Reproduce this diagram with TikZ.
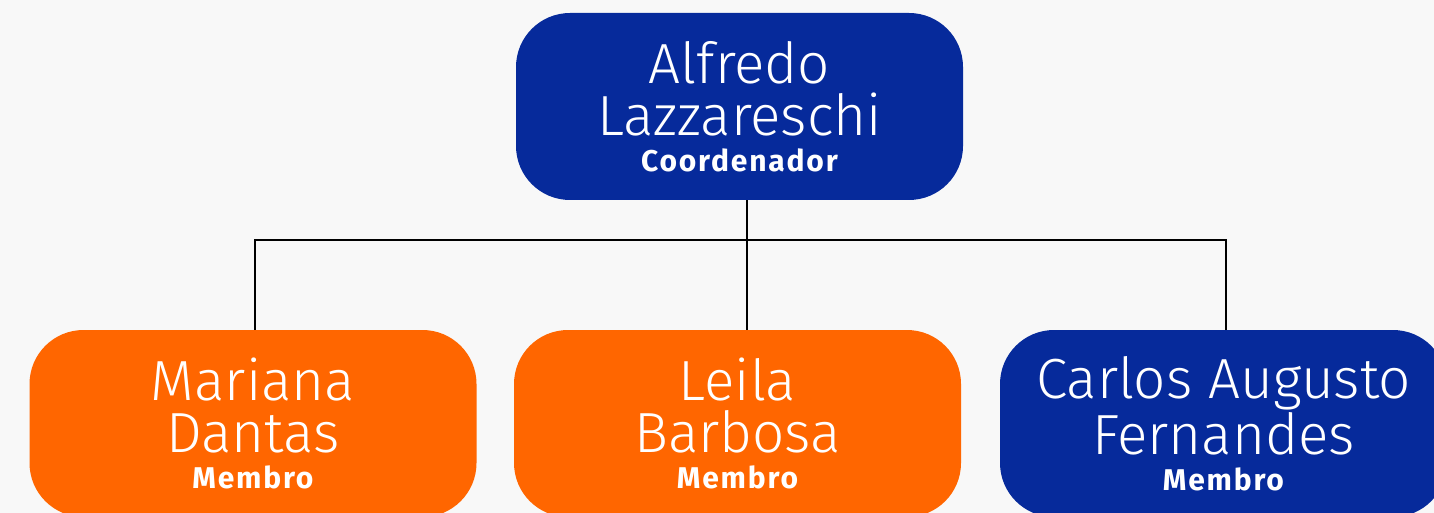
\documentclass[tikz,border=0pt]{standalone}
\usepackage{fontspec}
\setmainfont{Fira Sans}[UprightFont=* Light, BoldFont=* Bold]
\usepackage{xcolor}
\definecolor{chartbg}{HTML}{F8F8F8}
\definecolor{chartblue}{HTML}{062A9B}
\definecolor{chartorange}{HTML}{FF6600}

\tikzset{
  personbox/.style={rounded corners=27pt, minimum width=223.5pt, minimum height=93.5pt,
    text=white, align=center, inner sep=0pt, font=\fontsize{28.3}{26}\selectfont},
  bluebox/.style={personbox, fill=chartblue},
  orangebox/.style={personbox, fill=chartorange},
  link/.style={line width=1pt, black}
}
\newcommand{\rolename}[1]{\\[-8pt]{\fontsize{15}{16}\selectfont\bfseries\addfontfeature{LetterSpace=6}#1}}

\begin{document}
\begin{tikzpicture}[x=0.5pt,y=-0.5pt]
			\useasboundingbox (0,0) rectangle (1434,513);
			\fill[chartbg] (0,0) rectangle (1434,513);
			\clip (0,0) rectangle (1434,513);
			% coordinator
			\node[bluebox] (alfredo) at (739.5,106.5) {Alfredo\\Lazzareschi\rolename{Coordenador}};
			% members
			\node[orangebox] (mariana) at (253,423.5) {Mariana\\Dantas\rolename{Membro}};
			\node[orangebox] (leila) at (737.5,423.5) {Leila\\Barbosa\rolename{Membro}};
			\node[bluebox] (carlos) at (1223.5,423.5) {Carlos Augusto\\Fernandes\rolename{Membro}};
			% connectors
			\coordinate (bus) at (747,240);
			\draw[link] ([xshift=3.75pt]alfredo.south) -- ([xshift=4.75pt]leila.north);
			\draw[link] ([xshift=1pt]mariana.north) |- (bus) -| ([xshift=1.25pt]carlos.north);
\end{tikzpicture}
\end{document}
